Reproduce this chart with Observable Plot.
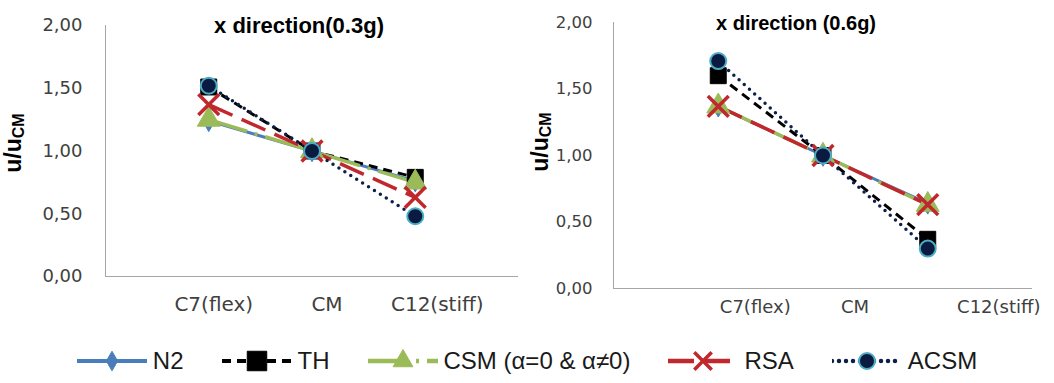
<!DOCTYPE html>
<html><head><meta charset="utf-8">
<script src="https://cdn.jsdelivr.net/npm/d3@7"></script>
<script src="https://cdn.jsdelivr.net/npm/@observablehq/plot@0.6"></script>
<style>
body{margin:0;background:#fff;width:1054px;height:383px;overflow:hidden}
#charts{display:flex;height:320px}
#legend{display:flex;justify-content:center;align-items:center;height:45px;padding-top:18px;font-family:"Liberation Sans",Arial,sans-serif;font-size:24px;color:#1a1a1a}
.item{display:flex;align-items:center;margin:0 19px}
.item svg{margin-right:6px}
</style></head><body><div id="charts"></div><div id="legend"></div>
<script>
const categories = ["C7(flex)", "CM", "C12(stiff)"];
const seriesNames = ["N2", "TH", "CSM (α=0 & α≠0)", "RSA", "ACSM"];
const yTicks = [0, 0.5, 1, 1.5, 2];
const titles = ["x direction(0.3g)", "x direction (0.6g)"];
// 0.3g
const n2_03 = [1.24, 1.00, 0.76];
const th_03 = [1.51, 1.00, 0.79];
const csm_03 = [1.25, 1.00, 0.75];
const rsa_03 = [1.37, 1.00, 0.63];
const acsm_03 = [1.52, 1.00, 0.48];
// 0.6g
const n2_06 = [1.37, 1.00, 0.64];
const th_06 = [1.60, 1.00, 0.37];
const csm_06 = [1.37, 1.00, 0.63];
const rsa_06 = [1.37, 1.00, 0.63];
const acsm_06 = [1.71, 1.00, 0.30];

const styles = [
  {color:"#4A7EBB", width:3, dash:null, cap:"butt", symbol:"diamond", fill:"#4A7EBB", stroke:"#4A7EBB", sw:1, r:6.5},
  {color:"#000000", width:3, dash:"9,6", cap:"butt", symbol:"square", fill:"#000000", stroke:"#000000", sw:1, r:9},
  {color:"#9BBB59", width:3.5, dash:"40,8,3,8", cap:"butt", symbol:"triangle", fill:"#9BBB59", stroke:"#9BBB59", sw:1, r:8.5},
  {color:"#C0282D", width:3.5, dash:"26,10", cap:"butt", symbol:"times", fill:"none", stroke:"#C0282D", sw:3.5, r:9.5},
  {color:"#0C1F4A", width:3.5, dash:"0,7", cap:"round", symbol:"circle", fill:"#0A1A40", stroke:"#4BACC6", sw:2, r:8}
];

function rows(arrs) {
  const out = [];
  arrs.forEach((vals, s) => vals.forEach((v, j) => out.push({series: seriesNames[s], pos: j + 1, category: categories[j], value: v})));
  return out;
}
const data03 = rows([n2_03, th_03, csm_03, rsa_03, acsm_03]);
const data06 = rows([n2_06, th_06, csm_06, rsa_06, acsm_06]);

function chart(o) {
  const fmt = d => d.toFixed(2).replace(".", ",");
  const marks = [
    Plot.ruleY([0], {stroke: "#A6A6A6", strokeWidth: 1}),
    Plot.ruleX([0], {y1: 0, y2: 2, stroke: "#A6A6A6", strokeWidth: 1}),
    Plot.axisY(yTicks, {tickSize: 0, tickPadding: o.yPad, tickFormat: fmt, fontSize: o.ySize, fill: "#404040", label: null})
  ];
  seriesNames.forEach((name, i) => {
    const st = styles[i];
    const d = o.data.filter(r => r.series === name);
    marks.push(Plot.line(d, {x: "pos", y: "value", stroke: st.color, strokeWidth: st.width,
      strokeDasharray: st.dash || undefined, strokeLinecap: st.cap}));
  });
  seriesNames.forEach((name, i) => {
    const st = styles[i];
    const d = o.data.filter(r => r.series === name);
    marks.push(Plot.dot(d, {x: "pos", y: "value", symbol: st.symbol, r: st.r, fill: st.fill,
      stroke: st.stroke, strokeWidth: st.sw}));
  });
  categories.forEach((c, i) => {
    marks.push(Plot.text([c], {x: () => i + 1, frameAnchor: "bottom", dy: o.xDy, dx: o.xDx[i],
      fontSize: o.xSize, fill: "#404040", fontFamily: "DejaVu Sans"}));
  });
  marks.push(Plot.text([o.title], {frameAnchor: "top", dy: o.tDy, dx: o.tDx, fontWeight: "bold",
    fontSize: o.tSize, fontFamily: "Liberation Sans", fill: "#000"}));
  const p = Plot.plot({
    width: o.width, height: 320,
    marginLeft: o.ml, marginRight: o.mr, marginTop: o.mt, marginBottom: o.mb,
    x: {domain: [0, 4], axis: null},
    y: {domain: [0, 2], axis: null, label: null},
    style: {fontFamily: "DejaVu Sans", background: "#fff", color: "#404040", overflow: "visible"},
    marks
  });
  const svg = d3.select(p);
  const t = svg.append("text")
    .attr("transform", `translate(${o.lx},${o.ly}) rotate(-90)`)
    .attr("text-anchor", "middle").attr("dominant-baseline", "middle")
    .attr("font-family", "Liberation Sans").attr("font-weight", "bold")
    .attr("font-size", 23).attr("fill", "#000");
  t.append("tspan").text("u/u");
  t.append("tspan").attr("dy", 5).attr("font-size", 16).text("CM");
  return p;
}

const charts = document.getElementById("charts");
charts.appendChild(chart({data: data03, title: titles[0], width: 520, ml: 105, mr: 2, mt: 25, mb: 44,
  yPad: 23, ySize: 18, xSize: 20, xDy: 34, xDx: [5, 15, 22], tDy: -8, tDx: -13, tSize: 22, lx: 15, ly: 143}));
charts.appendChild(chart({data: data06, title: titles[1], width: 534, ml: 93, mr: 22, mt: 22, mb: 32,
  yPad: 21, ySize: 16.5, xSize: 18, xDy: 24, xDx: [37, 32, 71], tDy: -7, tDx: -27, tSize: 20, lx: 22, ly: 142}));

// legend
const legend = d3.select("#legend");
const symMap = {diamond: d3.symbolDiamond, square: d3.symbolSquare, triangle: d3.symbolTriangle, times: d3.symbolTimes, circle: d3.symbolCircle};
const legSize = [110, 380, 170, 200, 200];
seriesNames.forEach((name, i) => {
  const st = styles[i];
  const item = legend.append("div").attr("class", "item");
  const s = item.append("svg").attr("width", 70).attr("height", 26);
  s.append("line").attr("x1", 0).attr("x2", 70).attr("y1", 13).attr("y2", 13)
    .attr("stroke", st.color).attr("stroke-width", st.width + 1)
    .attr("stroke-dasharray", st.dash).attr("stroke-linecap", st.cap);
  s.append("path").attr("transform", "translate(35,13)")
    .attr("d", d3.symbol(symMap[st.symbol], legSize[i])())
    .attr("fill", st.fill).attr("stroke", st.stroke).attr("stroke-width", st.sw);
  item.append("span").text(name);
});
</script>
</body></html>
